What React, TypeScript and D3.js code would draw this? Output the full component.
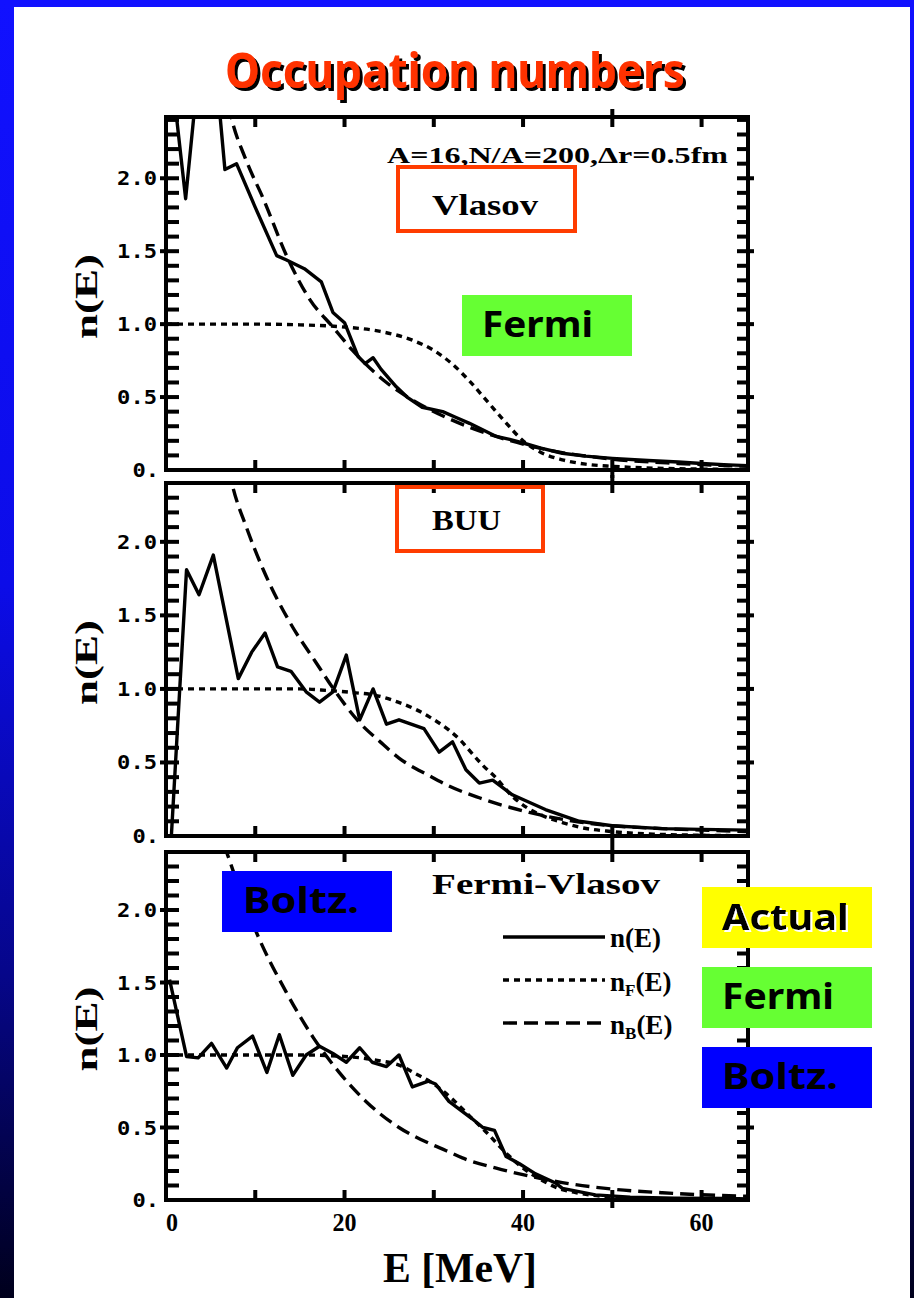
import React from 'react';
import * as d3 from 'd3';

// ---------------- DATA ----------------
const xTickValues = [0, 20, 40, 60];
const xTickLabels = ['0', '20', '40', '60'];
const xMinorTicks = [10, 20, 30, 40, 50, 60];
const yTickValues = [0, 0.5, 1.0, 1.5, 2.0];
const yTickLabels = ['0.', '0.5', '1.0', '1.5', '2.0'];
const panelNames = ['Vlasov', 'BUU', 'Fermi-Vlasov'];

// Panel 1 : Vlasov  [E (MeV), n(E)]
const vlasovActual: [number, number][] = [
  [0.3, 2.9], [2.2, 1.86], [3.4, 2.6], [5.8, 2.6], [6.6, 2.06], [7.9, 2.1], [10, 1.8],
  [12.4, 1.47], [13.5, 1.44], [15.5, 1.38], [17.4, 1.29], [18.7, 1.08], [20, 1.01],
  [21.5, 0.78], [22.3, 0.73], [23.2, 0.77], [24.1, 0.69], [25.8, 0.57], [27, 0.5],
  [28.7, 0.43], [31, 0.4], [32.5, 0.36], [34, 0.32], [37, 0.23], [38.5, 0.21],
  [40.3, 0.18], [42, 0.15], [44.4, 0.115], [47, 0.095], [50, 0.08], [54, 0.065],
  [57.4, 0.055], [60, 0.045], [63, 0.035], [65.3, 0.03],
];
const vlasovFermi: [number, number][] = [
  [0, 1], [10, 1], [15, 0.995], [20, 0.98], [24, 0.95], [27.6, 0.89], [30, 0.82],
  [32, 0.73], [34, 0.61], [36, 0.47], [38, 0.33], [40, 0.2], [42, 0.12], [44.4, 0.07],
  [47, 0.04], [50, 0.025], [55, 0.012], [60, 0.006], [65.3, 0.003],
];
const vlasovBoltz: [number, number][] = [
  [7.0, 2.5], [7.3, 2.42], [9, 2.12], [10.9, 1.86], [13.5, 1.47], [16.1, 1.17],
  [18.7, 0.98], [20.9, 0.82], [24.7, 0.6], [27.6, 0.48], [31.4, 0.36], [37, 0.23],
  [42.6, 0.14], [50, 0.075], [57.4, 0.045], [65.3, 0.025],
];

// Panel 2 : BUU
const buuActual: [number, number][] = [
  [0.6, 0], [2.3, 1.81], [3.7, 1.64], [5.3, 1.91], [8.1, 1.07], [9.6, 1.25], [11.1, 1.38],
  [12.5, 1.15], [14, 1.12], [15.7, 0.98], [17.2, 0.91], [18.7, 0.98], [20.2, 1.23],
  [21.7, 0.79], [23.2, 1.0], [24.7, 0.76], [26.1, 0.79], [28.9, 0.73], [30.6, 0.57],
  [32.1, 0.64], [33.6, 0.45], [35.1, 0.36], [36.6, 0.38], [38.8, 0.28], [42.5, 0.18],
  [46.3, 0.1], [50, 0.07], [55.6, 0.05], [60, 0.045], [65.3, 0.04],
];
const buuFermi: [number, number][] = [
  [0, 1], [10, 1], [15, 1], [18, 0.99], [21, 0.975], [23.2, 0.96], [26, 0.91], [28, 0.86],
  [29.5, 0.81], [31.7, 0.72], [33, 0.65], [34.3, 0.56], [35.5, 0.48], [36.9, 0.4],
  [38.8, 0.27], [40.5, 0.19], [42.5, 0.13], [44.5, 0.09], [46.3, 0.06], [50, 0.03],
  [55, 0.012], [60, 0.005], [65.3, 0.002],
];
const buuBoltz: [number, number][] = [
  [7, 2.5], [7.5, 2.37], [9, 2.1], [10.9, 1.81], [13.9, 1.45], [16.8, 1.18], [19, 0.98],
  [21.7, 0.77], [24, 0.64], [26.1, 0.53], [29.5, 0.41], [31.7, 0.34], [35.1, 0.26],
  [40.7, 0.16], [46.3, 0.095], [50, 0.07], [55.6, 0.05], [60, 0.04], [65.3, 0.03],
];

// Panel 3 : Fermi-Vlasov
const fvActual: [number, number][] = [
  [0.4, 1.52], [2.3, 0.99], [3.6, 0.98], [5.1, 1.08], [6.8, 0.91], [8.0, 1.05], [9.7, 1.13],
  [11.3, 0.88], [12.7, 1.14], [14.2, 0.86], [15.7, 1.0], [17.2, 1.06], [18.7, 1.01],
  [20.2, 0.95], [21.7, 1.05], [23.1, 0.95], [24.7, 0.92], [26.1, 1.0], [27.6, 0.78],
  [29.4, 0.82], [30.2, 0.8], [31.7, 0.68], [33, 0.62], [34.3, 0.56], [35.5, 0.5],
  [36.8, 0.48], [38.1, 0.3], [39.6, 0.25], [41.4, 0.18], [43.7, 0.115], [44.4, 0.08],
  [48.1, 0.035], [52, 0.02], [57, 0.012], [63, 0.01], [65.3, 0.008],
];
const fvFermi: [number, number][] = [
  [0, 1], [10, 1], [15, 1], [20, 0.99], [24, 0.96], [26.1, 0.93], [28, 0.87], [30, 0.8],
  [32, 0.7], [34, 0.58], [36, 0.46], [38, 0.33], [40, 0.22], [42, 0.14], [44, 0.08],
  [46, 0.05], [50, 0.02], [55, 0.008], [60, 0.003], [65.3, 0.001],
];
const fvBoltz: [number, number][] = [
  [6.5, 2.45], [6.9, 2.38], [8.5, 2.1], [10.1, 1.85], [13.5, 1.43], [16.5, 1.12],
  [19.4, 0.88], [22.4, 0.68], [26.1, 0.5], [29.5, 0.39], [31.4, 0.34], [33.2, 0.29],
  [37, 0.22], [40.7, 0.165], [44.4, 0.12], [50, 0.075], [55.6, 0.05], [60, 0.036],
  [65.3, 0.026],
];

const panelSeries = [
  { actual: vlasovActual, fermi: vlasovFermi, boltz: vlasovBoltz },
  { actual: buuActual, fermi: buuFermi, boltz: buuBoltz },
  { actual: fvActual, fermi: fvFermi, boltz: fvBoltz },
];

// ---------------- LAYOUT ----------------
const W = 914;
const H = 1298;
const X0 = 166;
const X1 = 748;
const panelLayout = [
  { top: 117, bottom: 470, yMax: 2.42 },
  { top: 483, bottom: 836, yMax: 2.4 },
  { top: 852, bottom: 1200, yMax: 2.4 },
];

const x = d3.scaleLinear().domain([0, 65.2]).range([X0, X1]);
const yScales = panelLayout.map((L) =>
  d3.scaleLinear().domain([0, L.yMax]).range([L.bottom, L.top])
);

const MONO = "'DejaVu Sans Mono', 'Liberation Mono', monospace";
const SERIF = "'Liberation Serif', 'DejaVu Serif', serif";
const HAND = "'Noto Sans', 'Open Sans', sans-serif";

const DOT = '6 5';
const DASH = '14 7';
const TW = 4; // tick thickness

type TickRect = { x: number; y: number; w: number; h: number };

function buildTicks(idx: number): TickRect[] {
  const L = panelLayout[idx];
  const y = yScales[idx];
  const out: TickRect[] = [];
  const n = Math.floor(L.yMax * 10);
  for (let i = 1; i <= n; i++) {
    const v = i / 10;
    const major = i % 5 === 0;
    const yy = y(v);
    const l0 = major ? X0 - 6 : X0;
    out.push({ x: l0, y: yy - TW / 2, w: X0 + 13 - l0, h: TW });
    const r1 = major ? X1 + 6 : X1;
    out.push({ x: X1 - 11, y: yy - TW / 2, w: r1 - (X1 - 11), h: TW });
  }
  xMinorTicks.forEach((e) => {
    const xx = x(e);
    const ext = e === 50 ? 8 : 0;
    out.push({ x: xx - TW / 2, y: L.bottom - 10, w: TW, h: 10 + ext });
    out.push({ x: xx - TW / 2, y: L.top - ext, w: TW, h: 10 + ext });
  });
  return out;
}

function Panel({ idx }: { idx: number }) {
  const L = panelLayout[idx];
  const s = panelSeries[idx];
  const y = yScales[idx];
  const line = d3
    .line<[number, number]>()
    .x((d) => x(d[0]))
    .y((d) => y(d[1]));
  const smooth = d3
    .line<[number, number]>()
    .x((d) => x(d[0]))
    .y((d) => y(d[1]))
    .curve(d3.curveMonotoneX);
  const clipId = `clip-${idx}`;
  const ticks = buildTicks(idx);

  return (
    <g>
      <defs>
        <clipPath id={clipId}>
          <rect x={X0} y={L.top} width={X1 - X0} height={L.bottom - L.top} />
        </clipPath>
      </defs>
      <g clipPath={`url(#${clipId})`} fill="none" stroke="#000" strokeLinejoin="round">
        <path d={smooth(s.fermi) || ''} strokeWidth={3.4} strokeDasharray={DOT} />
        <path d={smooth(s.boltz) || ''} strokeWidth={3.4} strokeDasharray={DASH} />
        <path d={line(s.actual) || ''} strokeWidth={3.4} />
      </g>
      <rect
        x={X0}
        y={L.top}
        width={X1 - X0}
        height={L.bottom - L.top}
        fill="none"
        stroke="#000"
        strokeWidth={4}
      />
      {ticks.map((t, i) => (
        <rect key={i} x={t.x} y={t.y} width={t.w} height={t.h} fill="#000" />
      ))}
      {yTickValues.map((v, i) => (
        <text
          key={i}
          x={v === 0 ? 159 : 157}
          y={y(v) + 7}
          textAnchor="end"
          fontFamily={MONO}
          fontWeight="bold"
          fontSize={19}
          textLength={yTickLabels[i].length * 13.3}
          lengthAdjust="spacingAndGlyphs"
        >
          {yTickLabels[i]}
        </text>
      ))}
      <text
        transform={`translate(97, ${(L.top + L.bottom) / 2 + 3}) rotate(-90)`}
        textAnchor="middle"
        fontFamily={SERIF}
        fontWeight="bold"
        fontSize={32}
        textLength={85}
        lengthAdjust="spacingAndGlyphs"
      >
        n(E)
      </text>
    </g>
  );
}

export default function App() {
  return (
    <svg
      width={W}
      height={H}
      viewBox={`0 0 ${W} ${H}`}
      style={{ position: 'absolute', left: 0, top: 0, display: 'block' }}
    >
      <defs>
        <linearGradient id="bg" x1="0" y1="0" x2="0" y2="1">
          <stop offset="0" stopColor="#1111ff" />
          <stop offset="0.45" stopColor="#0c0ce8" />
          <stop offset="0.75" stopColor="#06068a" />
          <stop offset="1" stopColor="#00001c" />
        </linearGradient>
        <filter id="shadowBlack" x="-5%" y="-20%" width="115%" height="150%">
          <feDropShadow dx={3} dy={3} stdDeviation={0.6} floodColor="#000" floodOpacity={1} />
        </filter>
        <filter id="shadowWhite" x="-5%" y="-20%" width="115%" height="150%">
          <feDropShadow dx={2} dy={2} stdDeviation={0.5} floodColor="#fff" floodOpacity={1} />
        </filter>
      </defs>
      <rect x={0} y={0} width={W} height={H} fill="url(#bg)" />
      <rect x={14} y={7} width={896} height={H - 7} fill="#fff" />

      {/* title */}
      <text
        x={225}
        y={88}
        fontFamily={HAND}
        fontWeight="bold"
        fontSize={48}
        textLength={460}
        lengthAdjust="spacingAndGlyphs"
        fill="#ff3300"
        filter="url(#shadowBlack)"
      >
        Occupation numbers
      </text>

      {[0, 1, 2].map((i) => (
        <Panel key={i} idx={i} />
      ))}

      {/* x axis labels */}
      {xTickValues.map((v, i) => (
        <text
          key={i}
          x={x(v) + (v === 0 ? 6 : 0)}
          y={1231}
          textAnchor="middle"
          fontFamily={SERIF}
          fontWeight="bold"
          fontSize={26}
          textLength={xTickLabels[i].length * 12}
          lengthAdjust="spacingAndGlyphs"
        >
          {xTickLabels[i]}
        </text>
      ))}
      <text
        x={460}
        y={1282}
        textAnchor="middle"
        fontFamily={SERIF}
        fontWeight="bold"
        fontSize={42}
        textLength={154}
        lengthAdjust="spacingAndGlyphs"
      >
        E [MeV]
      </text>

      {/* panel 1 annotations */}
      <text
        x={387}
        y={163}
        fontFamily={SERIF}
        fontWeight="bold"
        fontSize={24}
        textLength={341}
        lengthAdjust="spacingAndGlyphs"
      >
        A=16,N/A=200,Δr=0.5fm
      </text>
      <rect x={398} y={167} width={177} height={64} fill="none" stroke="#ff3c00" strokeWidth={4} />
      <text
        x={432}
        y={215}
        fontFamily={SERIF}
        fontWeight="bold"
        fontSize={30}
        textLength={106}
        lengthAdjust="spacingAndGlyphs"
      >
        {panelNames[0]}
      </text>
      <rect x={462} y={295} width={170} height={61} fill="#66ff33" />
      <text
        x={482}
        y={337}
        fontFamily={HAND}
        fontWeight="bold"
        fontSize={36}
        textLength={111}
        lengthAdjust="spacingAndGlyphs"
      >
        Fermi
      </text>

      {/* panel 2 annotations */}
      <rect x={397} y={487} width={146} height={64} fill="none" stroke="#ff3c00" strokeWidth={4} />
      <text
        x={432}
        y={530}
        fontFamily={SERIF}
        fontWeight="bold"
        fontSize={30}
        textLength={69}
        lengthAdjust="spacingAndGlyphs"
      >
        {panelNames[1]}
      </text>

      {/* panel 3 annotations */}
      <rect x={222} y={871} width={170} height={61} fill="#0000ff" />
      <text
        x={243}
        y={913}
        fontFamily={HAND}
        fontWeight="bold"
        fontSize={36}
        textLength={116}
        lengthAdjust="spacingAndGlyphs"
      >
        Boltz.
      </text>
      <text
        x={432}
        y={894}
        fontFamily={SERIF}
        fontWeight="bold"
        fontSize={29}
        textLength={228}
        lengthAdjust="spacingAndGlyphs"
      >
        {panelNames[2]}
      </text>

      {/* legend */}
      <g stroke="#000" strokeWidth={3.4}>
        <line x1={503} x2={605} y1={937} y2={937} />
        <line x1={503} x2={605} y1={980} y2={980} strokeDasharray={DOT} />
        <line x1={503} x2={605} y1={1023} y2={1023} strokeDasharray={DASH} />
      </g>
      <g fontFamily={SERIF} fontWeight="bold" fontSize={27}>
        <text x={610} y={947}>n(E)</text>
        <text x={610} y={991}>
          n<tspan fontSize={17} dy={5}>F</tspan>
          <tspan dy={-5}>(E)</tspan>
        </text>
        <text x={610} y={1034}>
          n<tspan fontSize={17} dy={5}>B</tspan>
          <tspan dy={-5}>(E)</tspan>
        </text>
      </g>

      {/* right-hand colour key */}
      <rect x={702} y={887} width={170} height={61} fill="#ffff00" />
      <text
        x={722}
        y={930}
        fontFamily={HAND}
        fontWeight="bold"
        fontSize={36}
        textLength={127}
        lengthAdjust="spacingAndGlyphs"
        filter="url(#shadowWhite)"
      >
        Actual
      </text>
      <rect x={702} y={967} width={170} height={61} fill="#66ff33" />
      <text
        x={722}
        y={1009}
        fontFamily={HAND}
        fontWeight="bold"
        fontSize={36}
        textLength={112}
        lengthAdjust="spacingAndGlyphs"
      >
        Fermi
      </text>
      <rect x={702} y={1047} width={170} height={61} fill="#0000ff" />
      <text
        x={722}
        y={1089}
        fontFamily={HAND}
        fontWeight="bold"
        fontSize={36}
        textLength={116}
        lengthAdjust="spacingAndGlyphs"
      >
        Boltz.
      </text>
    </svg>
  );
}
